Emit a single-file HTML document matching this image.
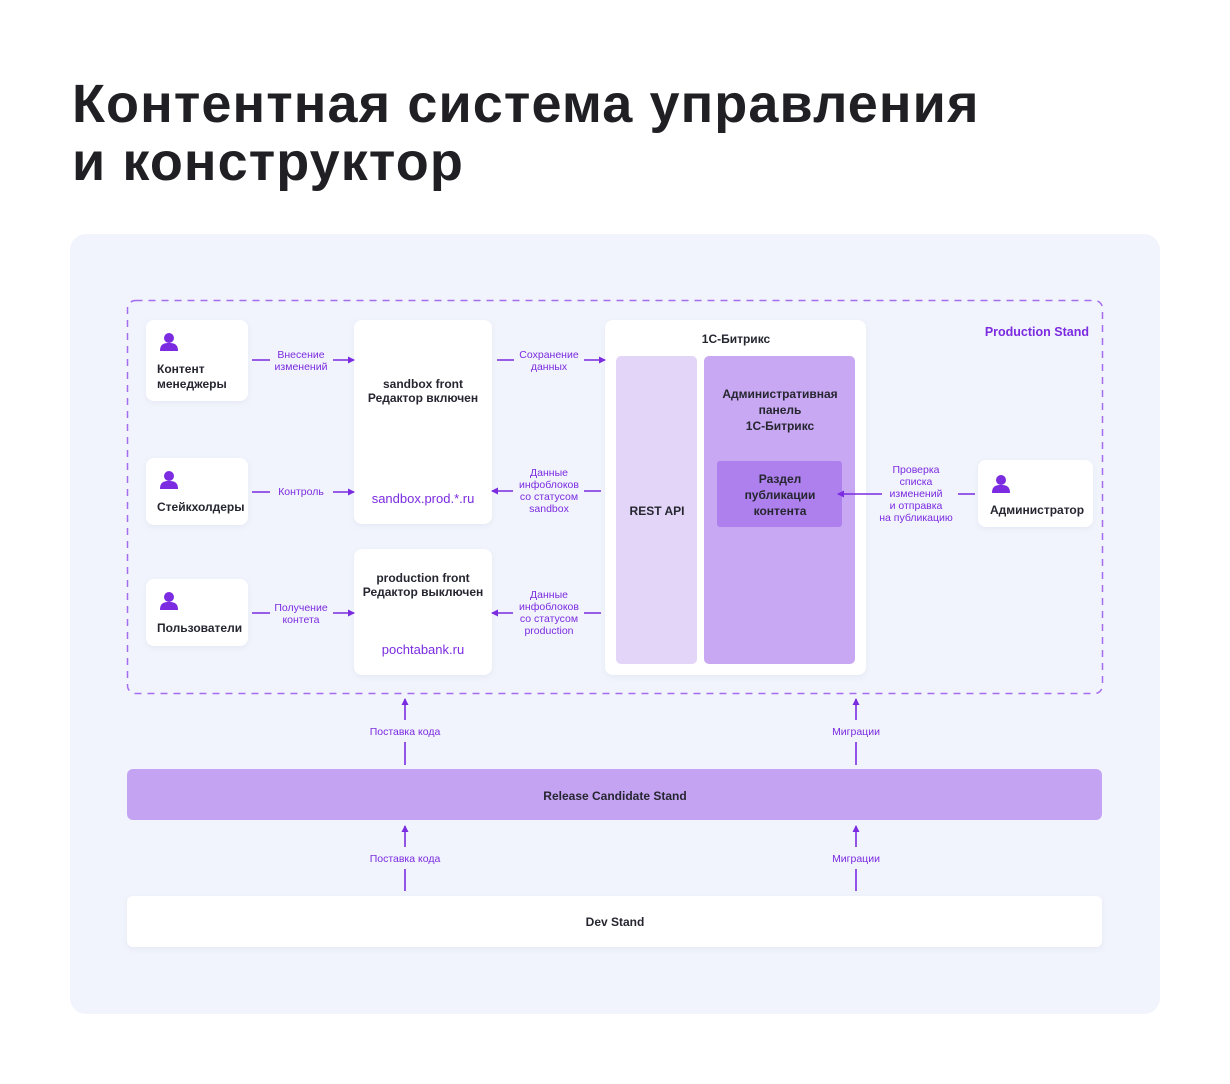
<!DOCTYPE html>
<html><head><meta charset="utf-8"><style>
html,body{margin:0;padding:0;background:#fff;}
svg{display:block;font-family:"Liberation Sans","DejaVu Sans",sans-serif;}
.t{font-size:10.5px;fill:#7b2be0;text-anchor:middle;}
.b{font-size:12px;font-weight:bold;fill:#262631;}
.c{text-anchor:middle;}
</style></head><body>
<svg width="1230" height="1084" viewBox="0 0 1230 1084" xmlns="http://www.w3.org/2000/svg">
<defs>
<marker id="a" markerWidth="8" markerHeight="8" refX="6" refY="4" orient="auto" markerUnits="userSpaceOnUse"><path d="M0,0.5 L7,4 L0,7.5 Z" fill="#7b2be0"/></marker>
<g id="p"><circle cx="9" cy="6" r="5" fill="#7b2be0"/><path d="M0,19 C0,12 4,11 9,11 C14,11 18,12 18,19 Z" fill="#7b2be0"/></g>
<filter id="sh" x="-10%" y="-10%" width="120%" height="130%"><feDropShadow dx="0" dy="2" stdDeviation="3" flood-color="#8a8fb8" flood-opacity="0.12"/></filter>
</defs>
<text x="72" y="122" font-size="54" font-weight="bold" fill="#1f1f24" style="letter-spacing:1.1px">Контентная система управления</text>
<text x="72" y="180" font-size="54" font-weight="bold" fill="#1f1f24" style="letter-spacing:1.1px">и конструктор</text>
<rect x="70" y="234" width="1090" height="780" rx="16" fill="#f1f4fc"/>
<rect x="127.5" y="300.5" width="975" height="393" rx="8" fill="none" stroke="#a46cee" stroke-width="1.5" stroke-dasharray="7,6"/>
<text x="1089" y="336" font-size="12.5" font-weight="bold" fill="#7b2be0" text-anchor="end">Production Stand</text>
<g filter="url(#sh)" fill="#fff">
<rect x="146" y="320" width="102" height="81" rx="8"/>
<rect x="146" y="458" width="102" height="67" rx="8"/>
<rect x="146" y="579" width="102" height="67" rx="8"/>
<rect x="354" y="320" width="138" height="204" rx="8"/>
<rect x="354" y="549" width="138" height="126" rx="8"/>
<rect x="605" y="320" width="261" height="355" rx="8"/>
<rect x="978" y="460" width="115" height="67" rx="8"/>
<rect x="127" y="896" width="975" height="51" rx="6"/>
</g>
<rect x="127" y="769" width="975" height="51" rx="6" fill="#c4a3f2"/>
<rect x="616" y="356" width="81" height="308" rx="5" fill="#e2d5f7"/>
<rect x="704" y="356" width="151" height="308" rx="5" fill="#c8a8f2"/>
<rect x="717" y="461" width="125" height="66" rx="3" fill="#ad80ed"/>
<use href="#p" x="160" y="332"/>
<use href="#p" x="160" y="470"/>
<use href="#p" x="160" y="591"/>
<use href="#p" x="992" y="474"/>
<text class="b" x="157" y="373">Контент</text>
<text class="b" x="157" y="388">менеджеры</text>
<text class="b" x="157" y="511">Стейкхолдеры</text>
<text class="b" x="157" y="632">Пользователи</text>
<text class="b" x="990" y="514">Администратор</text>
<text class="b c" x="423" y="388">sandbox front</text>
<text class="b c" x="423" y="402">Редактор включен</text>
<text class="c" x="423" y="503" font-size="13" fill="#7b2be0">sandbox.prod.*.ru</text>
<text class="b c" x="423" y="582">production front</text>
<text class="b c" x="423" y="596">Редактор выключен</text>
<text class="c" x="423" y="654" font-size="13" fill="#7b2be0">pochtabank.ru</text>
<text class="b c" x="736" y="343">1С-Битрикс</text>
<text class="b c" x="657" y="515">REST API</text>
<text class="b c" x="780" y="398" font-size="12.5">Административная</text>
<text class="b c" x="780" y="414" font-size="12.5">панель</text>
<text class="b c" x="780" y="430" font-size="12.5">1С-Битрикс</text>
<text class="b c" x="780" y="483" font-size="12.5">Раздел</text>
<text class="b c" x="780" y="499" font-size="12.5">публикации</text>
<text class="b c" x="780" y="515" font-size="12.5">контента</text>
<text class="b c" x="615" y="800" font-size="12.5">Release Candidate Stand</text>
<text class="b c" x="615" y="926" font-size="12.5">Dev Stand</text>
<g stroke="#7b2be0" stroke-width="1.6" fill="none">
<line x1="252" y1="360" x2="270" y2="360"/><line x1="333" y1="360" x2="354" y2="360" marker-end="url(#a)"/>
<line x1="252" y1="492" x2="270" y2="492"/><line x1="333" y1="492" x2="354" y2="492" marker-end="url(#a)"/>
<line x1="252" y1="613" x2="270" y2="613"/><line x1="333" y1="613" x2="354" y2="613" marker-end="url(#a)"/>
<line x1="497" y1="360" x2="514" y2="360"/><line x1="584" y1="360" x2="605" y2="360" marker-end="url(#a)"/>
<line x1="601" y1="491" x2="584" y2="491"/><line x1="513" y1="491" x2="492" y2="491" marker-end="url(#a)"/>
<line x1="601" y1="613" x2="584" y2="613"/><line x1="513" y1="613" x2="492" y2="613" marker-end="url(#a)"/>
<line x1="975" y1="494" x2="958" y2="494"/><line x1="882" y1="494" x2="838" y2="494" marker-end="url(#a)"/>
<line x1="405" y1="765" x2="405" y2="742"/><line x1="405" y1="720" x2="405" y2="699" marker-end="url(#a)"/>
<line x1="856" y1="765" x2="856" y2="742"/><line x1="856" y1="720" x2="856" y2="699" marker-end="url(#a)"/>
<line x1="405" y1="891" x2="405" y2="869"/><line x1="405" y1="847" x2="405" y2="826" marker-end="url(#a)"/>
<line x1="856" y1="891" x2="856" y2="869"/><line x1="856" y1="847" x2="856" y2="826" marker-end="url(#a)"/>
</g>
<text class="t" x="301" y="358">Внесение</text><text class="t" x="301" y="370">изменений</text>
<text class="t" x="301" y="495">Контроль</text>
<text class="t" x="301" y="611">Получение</text><text class="t" x="301" y="623">контета</text>
<text class="t" x="549" y="358">Сохранение</text><text class="t" x="549" y="370">данных</text>
<text class="t" x="549" y="476">Данные</text><text class="t" x="549" y="488">инфоблоков</text><text class="t" x="549" y="500">со статусом</text><text class="t" x="549" y="512">sandbox</text>
<text class="t" x="549" y="598">Данные</text><text class="t" x="549" y="610">инфоблоков</text><text class="t" x="549" y="622">со статусом</text><text class="t" x="549" y="634">production</text>
<text class="t" x="916" y="473">Проверка</text><text class="t" x="916" y="485">списка</text><text class="t" x="916" y="497">изменений</text><text class="t" x="916" y="509">и отправка</text><text class="t" x="916" y="521">на публикацию</text>
<text class="t" x="405" y="735">Поставка кода</text>
<text class="t" x="856" y="735">Миграции</text>
<text class="t" x="405" y="862">Поставка кода</text>
<text class="t" x="856" y="862">Миграции</text>
</svg>
</body></html>
